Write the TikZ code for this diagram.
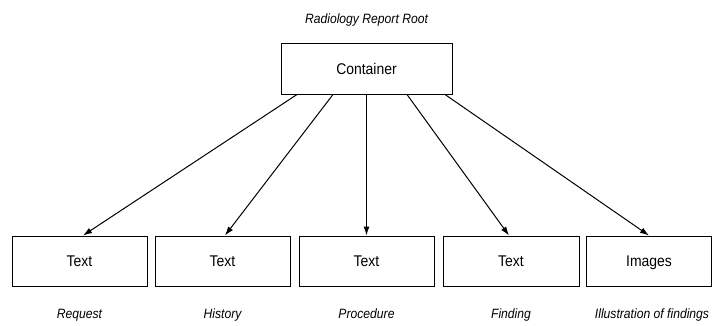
\documentclass[tikz,border=0pt]{standalone}
\usepackage{fontspec}
\setmainfont{Liberation Sans}[FakeStretch=0.9]
\usetikzlibrary{arrows.meta}
\begin{document}
\begin{tikzpicture}[x=1pt,y=-1pt,
  box/.style={draw=black, line width=1pt, minimum height=50pt, inner sep=0pt, text height=11pt, text depth=0pt, font=\fontsize{15.5}{17}\selectfont},
  caption/.style={inner sep=0pt, text height=10pt, text depth=0pt, font=\fontsize{13.5}{15}\selectfont\itshape},
  link/.style={line width=1pt, -{Latex[length=9pt,width=6pt]}}]
\useasboundingbox (0,0) rectangle (712,325);

% root of the report tree
\node[caption] (root) at (366.5,18) {Radiology Report Root};
\node[box, minimum width=171pt, minimum height=51pt] (c) at (366.5,68.5) {Container};

% report sections
\node[box, minimum width=135pt] (b1) at (79.5,261) {Text};
\node[box, minimum width=135pt] (b2) at (222.5,261) {Text};
\node[box, minimum width=135pt] (b3) at (366.5,261) {Text};
\node[box, minimum width=136pt] (b4) at (511,261) {Text};
\node[box, minimum width=125pt] (b5) at (649,261) {Images};

% section names
\node[caption] (l1) at (79.5,313) {Request};
\node[caption] (l2) at (222.5,313) {History};
\node[caption] (l3) at (366.5,313) {Procedure};
\node[caption] (l4) at (511,313) {Finding};
\node[caption] (l5) at (652,313) {Illustration of findings};

% links from the container to each section
\draw[link] ([xshift=-69.5pt]c.south) -- ([xshift=3.5pt]b1.north);
\draw[link] ([xshift=-33.5pt]c.south) -- ([xshift=2.5pt]b2.north);
\draw[link] (c.south) -- (b3.north);
\draw[link] ([xshift=40.5pt]c.south) -- ([xshift=-2pt]b4.north);
\draw[link] ([xshift=78.5pt]c.south) -- (b5.north);
\end{tikzpicture}
\end{document}
